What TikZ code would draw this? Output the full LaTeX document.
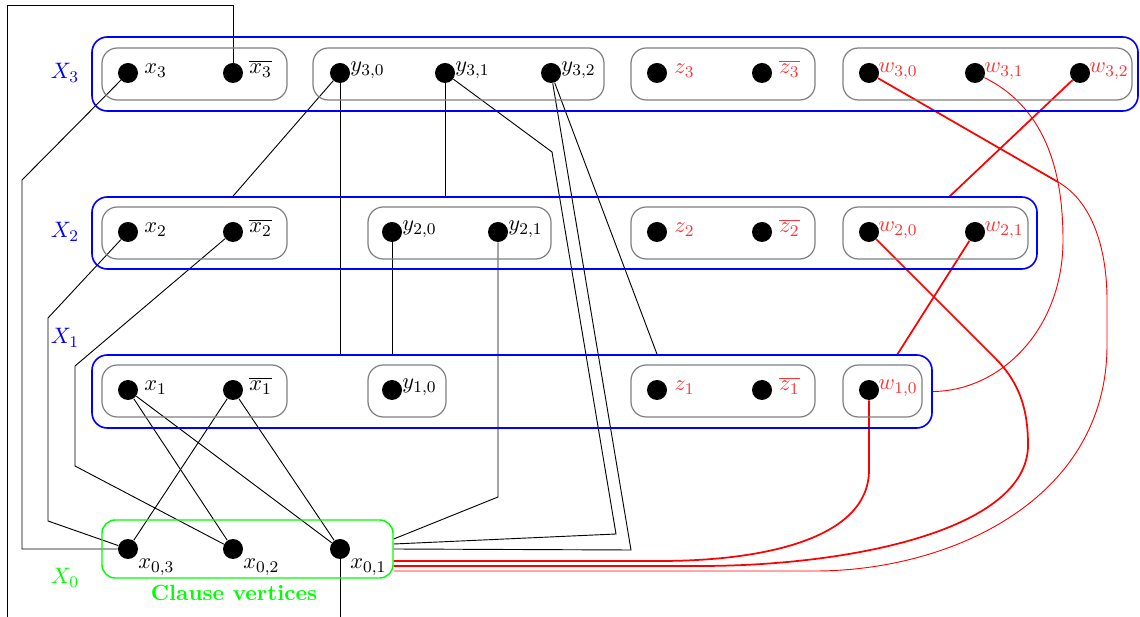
\documentclass[tikz,border=0pt]{standalone}
\usetikzlibrary{calc,fit,backgrounds}
\begin{document}
\begin{tikzpicture}[x=0.49pt,y=-0.49pt,
  every node/.style={font=\fontsize{10.8}{13}\selectfont},
  dot/.style={circle,fill=black,inner sep=0pt,minimum size=9.8pt},
  lab/.style={anchor=base west,inner sep=0pt},
  rlab/.style={lab,text=red!80},
  gbox/.style={draw=gray,rounded corners=7.5pt,line width=0.6pt,inner sep=0pt},
  bbox/.style={draw=blue,rounded corners=7.5pt,line width=0.8pt,inner sep=0pt},
  cbox/.style={draw=green,rounded corners=6.5pt,line width=0.7pt,inner sep=0pt},
  grp/.style={text=blue,inner sep=0pt},
  edge/.style={black,line width=0.45pt},
  redthick/.style={red,line width=0.85pt},
  redthin/.style={red,line width=0.45pt}]
\useasboundingbox (0,0) rectangle (1140,617);

% ---------- blue groups ----------
\node[bbox,fit={(92,37) (1138,111)}] (X3) {};
\node[bbox,fit={(92,197) (1037,269)}] (X2) {};
\node[bbox,fit={(92,355) (932,428)}] (X1) {};
\node[cbox,fit={(102,520) (393,578)}] (G) {};

% ---------- gray boxes ----------
\node[gbox,fit={(102,48) (287,100)}] (b3x) {};
\node[gbox,fit={(313,48) (604,100)}] (b3y) {};
\node[gbox,fit={(631,48) (815,100)}] (b3z) {};
\node[gbox,fit={(843,48) (1132,100)}] (b3w) {};
\node[gbox,fit={(102,207) (287,259)}] (b2x) {};
\node[gbox,fit={(368,207) (551,259)}] (b2y) {};
\node[gbox,fit={(631,207) (815,259)}] (b2z) {};
\node[gbox,fit={(843,207) (1028,259)}] (b2w) {};
\node[gbox,fit={(102,365) (287,417)}] (b1x) {};
\node[gbox,fit={(368,365) (446,417)}] (b1y) {};
\node[gbox,fit={(631,365) (815,417)}] (b1z) {};
\node[gbox,fit={(843,365) (922,417)}] (b1w) {};

% ---------- group labels ----------
\node[grp] (lX3) at (65,73) {$X_3$};
\node[grp] (lX2) at (65,232) {$X_2$};
\node[grp] (lX1) at (65,338) {$X_1$};
\node[grp,text=green] (lX0) at (65,578) {$X_0$};
\node[text=green,inner sep=0pt] (lCV) at (234,593) {\textbf{Clause vertices}};

% ---------- vertices ----------
\foreach \n/\x/\y in {x3/128/73,x3b/233/73,y30/340/73,y31/445/73,y32/551/73,
  z3/657/73,z3b/762/73,w30/869/73,w31/975/73,w32/1080/73,
  x2/128/232,x2b/233/232,y20/392/232,y21/498/232,z2/657/232,z2b/762/232,w20/869/232,w21/975/232,
  x1/128/390,x1b/233/390,y10/392/390,z1/657/390,z1b/762/390,w10/869/390,
  x03/128/549,x02/233/549,x01/340/549}
  \node[dot] (\n) at (\x,\y) {};

% ---------- vertex labels ----------
\foreach \n/\t in {x3/x_3,x3b/\overline{x_3},x2/x_2,x2b/\overline{x_2},x1/x_1,x1b/\overline{x_1}}
  \node[lab] (l\n) at ($(\n)+(16,1)$) {$\t$};
\foreach \n/\t in {z3/z_3,z3b/\overline{z_3},z2/z_2,z2b/\overline{z_2},z1/z_1,z1b/\overline{z_1}}
  \node[rlab] (l\n) at ($(\n)+(17,1)$) {$\t$};
\foreach \n/\t in {y30/y_{3,0},y31/y_{3,1},y32/y_{3,2},y20/y_{2,0},y21/y_{2,1},y10/y_{1,0}}
  \node[lab] (l\n) at ($(\n)+(10,-1)$) {$\t$};
\foreach \n/\t in {w30/w_{3,0},w31/w_{3,1},w32/w_{3,2},w20/w_{2,0},w21/w_{2,1},w10/w_{1,0}}
  \node[rlab] (l\n) at ($(\n)+(9,0)$) {$\t$};
\foreach \n/\t in {x03/x_{0,3},x02/x_{0,2},x01/x_{0,1}}
  \node[lab] (l\n) at ($(\n)+(10,20)$) {$\t$};

% ---------- bend points ----------
\coordinate (a1) at (22,180);  \coordinate (a2) at (22,549);
\coordinate (b1) at (233,5);   \coordinate (b2) at (7,5);    \coordinate (b3) at (7,617);
\coordinate (c1) at (48,318);  \coordinate (c2) at (48,521);
\coordinate (d1) at (75,366);  \coordinate (d2) at (75,466);
\coordinate (e1) at (340,617);
\coordinate (f1) at (552,152); \coordinate (f2) at (616,534);
\coordinate (g1) at (631,550);
\coordinate (h1) at (498,497);
\coordinate (gE1) at ($(G.east)+(0,-10)$);
\coordinate (gE2) at ($(G.east)+(0,-5)$);
\coordinate (gE4) at ($(G.east)+(0,12)$);
\coordinate (gE5) at ($(G.east)+(0,17)$);
\coordinate (gE6) at ($(G.east)+(0,22)$);
\coordinate (r1) at (1058,182);
\coordinate (r2) at (949,197);
\coordinate (r3) at (897,355);
\coordinate (r4) at (995,358);

% ---------- black connectors ----------
\begin{scope}[on background layer]
\draw[edge] (x3) -- (a1) -- (a2) -- (x03);
\draw[edge] (x3b) -- (b1) -- (b2) -- (b3);
\draw[edge] (x2) -- (c1) -- (c2) -- (x03);
\draw[edge] (x2b) -- (d1) -- (d2) -- (x02);
\draw[edge] (x1) -- (x02);
\draw[edge] (x1) -- (x01);
\draw[edge] (x1b) -- (x03);
\draw[edge] (x1b) -- (x01);
\draw[edge] (x01) -- (e1);
\draw[edge] (y30) -- (X2.north -| x2b);
\draw[edge] (y30) -- (X1.north -| y30);
\draw[edge] (y31) -- (X2.north -| y31);
\draw[edge] (y31) -- (f1) -- (f2) -- (gE2);
\draw[edge] (y32) -- (g1) -- (G.east);
\draw[edge] (y32) -- (X1.north -| z1);
\draw[edge] (y20) -- (X1.north -| y20);
\draw[edge] (y21) -- (h1) -- (gE1);

% ---------- red connectors ----------
\draw[redthick] (w30) -- (r1);
\draw[redthin] (r1) .. controls (1093,202) and (1107,250) .. (1107,300) -- (1107,345)
  .. controls (1107,500) and (950,571) .. (815,571) -- (gE6);
\draw[redthin] (w31) .. controls (1050,110) and (1063,180) .. (1063,240)
  .. controls (1063,330) and (1000,391) .. (X1.east);
\draw[redthick] (w32) -- (r2);
\draw[redthick] (w21) -- (r3);
\draw[redthick] (w20) -- (r4) .. controls (1020,383) and (1028,410) .. (1028,445)
  .. controls (1028,530) and (850,566) .. (700,566) -- (gE5);
\draw[redthick] (w10) -- (869,470) .. controls (869,540) and (760,561) .. (660,561) -- (gE4);
\end{scope}
\end{tikzpicture}
\end{document}
